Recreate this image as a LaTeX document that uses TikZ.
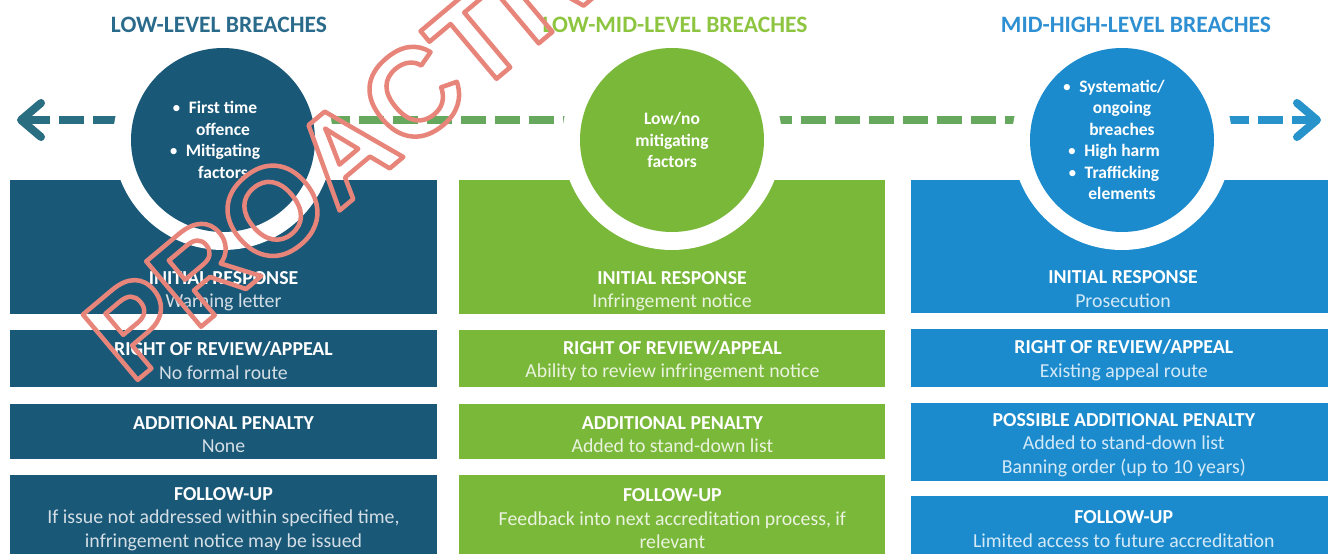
\documentclass[tikz,border=0pt]{standalone}
\usepackage{fontspec}
\setmainfont{Carlito}
\newfontfamily\stampfont{Liberation Sans}
\usepackage{xcolor}
\definecolor{lowDark}{HTML}{1A5878}
\definecolor{lowTitle}{HTML}{2A6A8A}
\definecolor{lowDash}{HTML}{2A6E82}
\definecolor{lowBody}{HTML}{D3DEE5}
\definecolor{midGreen}{HTML}{7AB83A}
\definecolor{midTitle}{HTML}{8DC540}
\definecolor{midDash}{HTML}{66A95E}
\definecolor{midBody}{HTML}{EAF3DE}
\definecolor{highBlue}{HTML}{1B8BCD}
\definecolor{highTitle}{HTML}{2E90D2}
\definecolor{highDash}{HTML}{2893CB}
\definecolor{highBody}{HTML}{D4E9F7}
\definecolor{stampRed}{HTML}{E8857B}
\usepackage{tikz}
\usetikzlibrary{arrows.meta,positioning}
\newcommand{\panelhead}[1]{{\rule{0pt}{19pt}\bfseries\color{white}#1}}
\newcommand{\bul}{\llap{{\mdseries\textbullet}\ \ }}
\tikzset{
    title/.style={
        font=\fontsize{23.5}{23.5}\selectfont\bfseries,
        inner sep=0pt
    },
    panel/.style={
        rectangle,
        inner sep=0pt,
        minimum width=426pt,
        align=center,
        font=\fontsize{19.8}{23.5}\selectfont
    },
    paneltxt/.style={
        inner sep=0pt,
        align=center,
        font=\fontsize{19.8}{23.5}\selectfont
    },
    ring/.style={
        circle,
        fill=white,
        minimum size=220pt,
        inner sep=0pt
    },
    badge/.style={
        circle,
        minimum size=184pt,
        inner sep=0pt,
        align=center,
        text=white,
        font=\fontsize{17.5}{21.5}\selectfont\bfseries
    },
    dashline/.style={
        line width=8pt,
        dash pattern=on 25pt off 9pt
    },
    stamp/.style={
        text=stampRed,
        inner sep=0pt,
        font=\fontsize{124}{124}\selectfont\stampfont\bfseries
    }
}

\begin{document}
\begin{tikzpicture}[x=1pt, y=-1pt]
    \clip (0,0) rectangle (1328,554);
    \fill[white] (0,0) rectangle (1328,554);

    % Low-level column
    \node[panel, fill=lowDark, minimum width=427pt, minimum height=134pt, anchor=north] (lowresp) at (223.5,180) {};
    \node[panel, fill=lowDark, text=lowBody, minimum width=427pt, minimum height=57pt, below=15pt of lowresp] (lowreview) {\panelhead{RIGHT OF REVIEW/APPEAL}\\No formal route};
    \node[panel, fill=lowDark, text=lowBody, minimum width=427pt, minimum height=55pt, below=17pt of lowreview] (lowpenalty) {\panelhead{ADDITIONAL PENALTY}\\None};
    \node[panel, fill=lowDark, text=lowBody, minimum width=427pt, minimum height=81pt, below=16pt of lowpenalty] (lowfollow) {\panelhead{FOLLOW-UP}\\If issue not addressed within specified time,\\infringement notice may be issued};

    % Low-mid-level column
    \node[panel, fill=midGreen, minimum height=134pt, right=22pt of lowresp] (midresp) {};
    \node[panel, fill=midGreen, text=midBody, minimum height=57pt, below=15pt of midresp] (midreview) {\panelhead{RIGHT OF REVIEW/APPEAL}\\Ability to review infringement notice};
    \node[panel, fill=midGreen, text=midBody, minimum height=55pt, below=17pt of midreview] (midpenalty) {\panelhead{ADDITIONAL PENALTY}\\Added to stand-down list};
    \node[panel, fill=midGreen, text=midBody, minimum height=81pt, below=16pt of midpenalty] (midfollow) {\panelhead{FOLLOW-UP}\\Feedback into next accreditation process, if\\relevant};

    % Mid-high-level column
    \node[panel, fill=highBlue, minimum height=133pt, right=25pt of midresp.north east, anchor=north west] (highresp) {};
    \node[panel, fill=highBlue, text=highBody, minimum height=58pt, below=15pt of highresp] (highreview) {\panelhead{RIGHT OF REVIEW/APPEAL}\\Existing appeal route};
    \node[panel, fill=highBlue, text=highBody, minimum height=78pt, below=16pt of highreview] (highpenalty) {\panelhead{POSSIBLE ADDITIONAL PENALTY}\\Added to stand-down list\\Banning order (up to 10 years)};
    \node[panel, fill=highBlue, text=highBody, minimum height=59pt, below=15pt of highpenalty] (highfollow) {\panelhead{FOLLOW-UP}\\Limited access to future accreditation};

    % Initial response texts
    \node[paneltxt, text=lowBody] (lowresptxt) at (223.5,288) {\panelhead{INITIAL RESPONSE}\\Warning letter};
    \node[paneltxt, text=midBody] (midresptxt) at (672,288) {\panelhead{INITIAL RESPONSE}\\Infringement notice};
    \node[paneltxt, text=highBody] (highresptxt) at (1123,286) {\panelhead{INITIAL RESPONSE}\\Prosecution};

    % Scale line
    \coordinate (leftend) at (17,120);
    \coordinate (rightend) at (1321,120);
    \node[ring, fill=none] (lowring) at (223,140) {};
    \node[ring, fill=none] (midring) at (672,140) {};
    \node[ring, fill=none] (highring) at (1122,140) {};
    \draw[dashline, lowDash, {Straight Barb[length=20pt,width=34pt,round]}-] (leftend) -- (leftend -| lowring.center);
    \draw[dashline, midDash] (leftend -| lowring.center) -- (leftend -| highring.center);
    \draw[dashline, highDash, -{Straight Barb[length=20pt,width=34pt,round]}] (rightend -| highring.center) -- (rightend);

    % Circles
    \node[ring] at (lowring) {};
    \node[ring] at (midring) {};
    \node[ring] at (highring) {};
    \node[badge, fill=lowDark] (lowbadge) at (lowring) {\bul First time\\offence\\\bul Mitigating\\factors};
    \node[badge, fill=midGreen] (midbadge) at (midring) {Low/no\\mitigating\\factors};
    \node[badge, fill=highBlue] (highbadge) at (highring) {\bul Systematic/\\ongoing\\breaches\\\bul High harm\\\bul Trafficking\\elements};

    % Titles
    \node[title, text=lowTitle] (lowtitle) at (219,25) {LOW-LEVEL BREACHES};
    \node[title, text=midTitle] (midtitle) at (675,25) {LOW-MID-LEVEL BREACHES};
    \node[title, text=highTitle] (hightitle) at (1136,25) {MID-HIGH-LEVEL BREACHES};

    % Stamp
    \node[stamp, rotate=40] (stamp) at (381,120) {\special{pdf:literal direct 1 Tr 4.5 w 1 j}PROACTIVE\special{pdf:literal direct 0 Tr}};
\end{tikzpicture}
\end{document}
